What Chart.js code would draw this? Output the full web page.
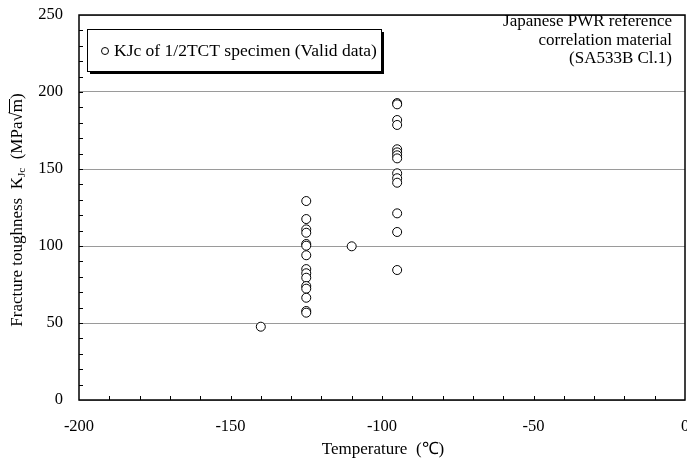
<!DOCTYPE html>
<html>
<head>
<meta charset="utf-8">
<script src="https://cdn.jsdelivr.net/npm/chart.js"></script>
<style>
  html, body { margin: 0; padding: 0; background: #fff; }
  #wrap { width: 687px; height: 461px; position: relative; }
</style>
</head>
<body>
<div id="wrap"><canvas id="kjc-chart"></canvas></div>
<script>
// Temperature (°C) and KJc (MPa√m)
const temperatures = [
  -140,
  -125, -125, -125, -125, -125, -125, -125, -125, -125, -125, -125, -125, -125, -125, -125,
  -110,
  -95, -95, -95, -95, -95, -95, -95, -95, -95, -95, -95, -95, -95, -95
];
const kjcValues = [
  47.6,
  129.2, 117.5, 110.8, 108.6, 101.3, 100.2, 94, 85, 82.3, 79.4, 74, 72.3, 66.4, 57.8, 56.7,
  99.8,
  192.8, 192, 181.8, 178.6, 162.8, 160.8, 158.9, 156.9, 147.2, 144, 141.1, 121.2, 109.1, 84.4
];
const seriesLabel = 'KJc of 1/2TCT specimen (Valid data)';
const noteLines = ['Japanese PWR reference', 'correlation material', '(SA533B Cl.1)'];
const xTicks = [-200, -150, -100, -50, 0];
const yTicks = [0, 50, 100, 150, 200, 250];

const serif = '"Liberation Serif", "Times New Roman", serif';

// frame, inner ticks, legend box, notes and axis titles
const decorations = {
  id: 'decorations',
  afterDraw(chart) {
    const ctx = chart.ctx;
    const a = chart.chartArea;
    const xs = chart.scales.x, ys = chart.scales.y;
    ctx.save();

    // inner tick marks
    ctx.strokeStyle = '#000';
    ctx.lineWidth = 1;
    ctx.beginPath();
    for (let v = -190; v < 0; v += 10) {
      const px = Math.round(xs.getPixelForValue(v)) + 0.5;
      ctx.moveTo(px, a.bottom);
      ctx.lineTo(px, a.bottom - 4);
    }
    for (let v = 10; v < 250; v += 10) {
      const py = Math.round(ys.getPixelForValue(v)) + 0.5;
      ctx.moveTo(a.left, py);
      ctx.lineTo(a.left + 4, py);
    }
    ctx.stroke();

    // frame
    ctx.lineWidth = 1.5;
    ctx.strokeRect(a.left, a.top, a.right - a.left, a.bottom - a.top);

    // legend box with shadow
    const bx = 87, by = 29, bw = 294, bh = 42;
    ctx.fillStyle = '#000';
    ctx.fillRect(bx + 3, by + 3, bw, bh);
    ctx.fillStyle = '#fff';
    ctx.fillRect(bx, by, bw, bh);
    ctx.lineWidth = 1;
    ctx.strokeStyle = '#000';
    ctx.strokeRect(bx + 0.5, by + 0.5, bw, bh);
    ctx.beginPath();
    ctx.arc(105, by + bh / 2 + 1, 3.5, 0, Math.PI * 2);
    ctx.stroke();
    ctx.fillStyle = '#000';
    ctx.font = '17.5px ' + serif;
    ctx.textBaseline = 'middle';
    ctx.textAlign = 'left';
    ctx.fillText(seriesLabel, 114, by + bh / 2 + 1);

    // note at top right
    ctx.font = '17px ' + serif;
    ctx.textAlign = 'right';
    noteLines.forEach((t, i) => ctx.fillText(t, 672, 22 + i * 18.3));

    // x axis title
    ctx.textAlign = 'center';
    ctx.fillText('Temperature  (\u2103)', 383, 450);

    // y axis title with subscript and radical
    ctx.translate(18, 210);
    ctx.rotate(-Math.PI / 2);
    const parts = [
      { t: 'Fracture toughness  K', f: '17px ' + serif, dy: 0 },
      { t: 'Jc', f: '11px ' + serif, dy: 4.5 },
      { t: '  (MPa\u221A', f: '17px ' + serif, dy: 0 },
      { t: 'm', f: '17px ' + serif, dy: 0, over: true },
      { t: ')', f: '17px ' + serif, dy: 0 }
    ];
    let total = 0;
    parts.forEach(p => { ctx.font = p.f; p.w = ctx.measureText(p.t).width; total += p.w; });
    let cx = -total / 2;
    ctx.textAlign = 'left';
    parts.forEach(p => {
      ctx.font = p.f;
      ctx.fillText(p.t, cx, p.dy);
      if (p.over) {
        ctx.beginPath();
        ctx.lineWidth = 1;
        ctx.moveTo(cx - 1, -8.5);
        ctx.lineTo(cx + p.w, -8.5);
        ctx.stroke();
      }
      cx += p.w;
    });
    ctx.restore();
  }
};

document.addEventListener('DOMContentLoaded', function() {
  const points = temperatures.map((t, i) => ({ x: t, y: kjcValues[i] }));

  new Chart(document.getElementById('kjc-chart'), {
    type: 'scatter',
    data: {
      datasets: [{
        label: seriesLabel,
        data: points,
        pointStyle: 'circle',
        pointRadius: 4.5,
        pointBackgroundColor: '#fff',
        pointBorderColor: '#000',
        pointBorderWidth: 1,
        pointHoverRadius: 4.5
      }]
    },
    options: {
      responsive: true,
      maintainAspectRatio: false,
      animation: false,
      layout: { autoPadding: false, padding: { left: 0, right: 2, top: 15, bottom: 0 } },
      plugins: { legend: { display: false }, tooltip: { enabled: false } },
      scales: {
        x: {
          type: 'linear',
          min: xTicks[0],
          max: xTicks[xTicks.length - 1],
          afterBuildTicks: s => { s.ticks = xTicks.map(v => ({ value: v })); },
          afterFit: s => { s.height = 61; s.paddingLeft = 0; s.paddingRight = 0; },
          grid: { display: false, drawTicks: false },
          border: { display: false },
          ticks: { color: '#000', font: { family: serif, size: 16.5 }, padding: 17, maxRotation: 0 }
        },
        y: {
          type: 'linear',
          min: yTicks[0],
          max: yTicks[yTicks.length - 1],
          afterBuildTicks: s => { s.ticks = yTicks.map(v => ({ value: v })); },
          afterFit: s => { s.width = 79; s.paddingTop = 0; s.paddingBottom = 0; },
          grid: { color: '#9a9a9a', lineWidth: 1, drawTicks: false },
          border: { display: false },
          ticks: { color: '#000', font: { family: serif, size: 16.5 }, padding: 16 }
        }
      }
    },
    plugins: [decorations]
  });
});
</script>
</body>
</html>
